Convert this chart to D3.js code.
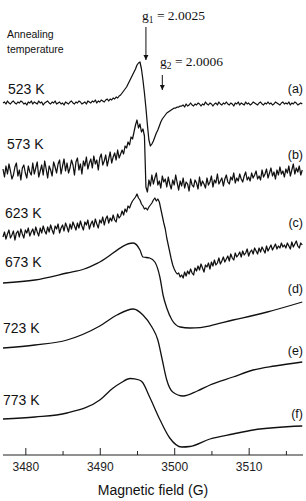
<!DOCTYPE html>
<html><head><meta charset="utf-8">
<script src="https://cdn.jsdelivr.net/npm/d3@7"></script>
<style>
html,body{margin:0;padding:0;background:#fff;}
svg{display:block;}
</style></head>
<body>
<svg id="chart" width="306" height="501"></svg>
<script>
// ---------------- DATA ----------------
// Noisy spectra sampled on a regular field grid (G)
const gridStart = 3477, gridStep = 0.2;
const sigA = [0,1,-1,2,0,-1,1,2,0,-1, 1,0,2,1,-1,0,-2,1,0,2, -1,1,0,-1,2,0,1,-2,0,1,
  2,0,-1,1,0,2,-1,0,1,-1, 0,-2,1,0,-1,1,2,0,-1,1, 0,2,1,-1,0,1,-1,2,1,0,
  2,1,3,0,2,1,3,2,1,3, 4,2,4,3,5,4,6,5,7,8, 10,12,14,16,19,22,25,28,31,34,
  38,40,41,34,23,10,-5,-22,-37,-43, -41,-38,-34,-30,-27,-23,-19,-16,-14,-12,
  -10,-9,-8,-7,-6,-5,-5,-4,-4,-3, -3,-2,-4,-1,-3,-2,0,-2,-3,-1,
  -2,0,-1,-3,-1,-2,1,-1,-2,0, -1,-3,-1,0,-2,1,-1,-2,0,-1, 1,-1,-2,0,-1,-3,0,-1,1,-2,
  0,-1,-2,1,-1,0,-2,-1,1,0, -1,-2,0,1,-1,-2,0,-1,1,-1, 0,-2,-1,1,0,-1,-2,0,1,-1,
  0,-1,1,-2,0,-1,1,0,-2,-1,0,-1];
const sigB = [3,-5,6,-2,8,1,-7,-3,5,9, -4,2,-8,4,7,-1,-6,6,0,-3,
  9,-2,4,10,-5,1,7,-3,11,3, -6,6,2,-4,10,5,-1,8,12,-2,
  6,13,1,9,-1,4,12,7,-3,10, 14,2,8,-2,11,6,15,3,9,13,
  4,16,8,12,2,14,18,7,11,17, 6,13,20,9,15,19,12,22,14,18,
  22,18,26,24,30,27,35,33,40,47, 52,44,48,40,43,36,
  -15,-20,
  -8,-14,-3,-12,-6,-1,-13,-9,-16,-4,-10,-7,
  -15,-5,-12,-17,-8,-13,-3,-11,-18,-9, -14,-6,-16,-10,-12,-19,-7,-13,-15,-8,
  -11,-17,-5,-14,-9,-12,-16,-6,-13,-10, -4,-15,-8,-11,-2,-12,-9,-6,-14,-7,
  -3,-10,-12,-5,-8,-1,-11,-6,-9,-2, -7,-10,-4,0,-8,-5,-9,-1,-6,-3,
  1,-7,-4,-8,2,-5,-2,3,-6,-1, 4,-4,0,-7,2,-3,5,-2,1,-5,
  3,-1,6,-4,2,8,-2,4,0,6,-3,2];
const sigC = [-2,3,-4,1,5,-3,0,4,-5,2, 4,-2,6,1,-3,5,2,7,-1,3,
  6,0,8,3,-1,7,2,9,4,1, 8,3,10,5,1,9,6,11,2,7,
  10,4,12,8,3,11,6,13,9,5, 12,7,14,9,5,13,10,15,6,11,
  14,8,16,11,7,15,12,18,10,16, 19,12,17,14,20,15,13,21,17,19,
  24,20,26,23,29,27,31,34,36,38, 41,37,35,31,29,26,27,25,28,30,
  32,35,37,34,36,33,26,19,12,6, -3,-10,-17,-24,-30,-34,-37,-39,-38,-42,
  -40,-43,-37,-41,-36,-39,-34,-38,-40,-33, -36,-31,-35,-29,-33,-37,-30,-32,-28,-34,
  -27,-31,-25,-30,-28,-23,-29,-26,-22,-27, -24,-21,-26,-19,-23,-25,-18,-22,-20,-17,
  -22,-16,-20,-18,-14,-21,-17,-15,-19,-13, -16,-19,-13,-17,-12,-15,-18,-11,-16,-13,
  -10,-15,-12,-9,-14,-11,-13,-8,-12,-10, -13,-8,-11,-14,-7,-12,-9,-6,-11,-13,-8,-10];
// Smooth spectra (field, signal)
const fieldD = [3477,3481.3,3485.6,3487.9,3490.0,3494.5,3495.4,3495.8,3496.7,3497.4,3498.1,3498.5,3499.0,3499.7,3500.8,3502.1,3503.5,3504.8,3507.9,3510.6,3512.5,3517.2];
const sigD   = [0,3,10,14,21,40,33,26,25,21,5,-12,-25,-37,-44,-45,-44.6,-42.8,-37,-32.5,-29,-19];
const fieldE = [3477,3481.3,3485.6,3490.0,3492.3,3494.5,3495.8,3497.0,3497.8,3498.4,3499.0,3499.8,3501.2,3503.1,3504.8,3507.9,3510.6,3513.5,3517.2];
const sigE   = [0,3,8,22,33,39,33,21,8,-12,-32,-44,-48,-43,-37,-29,-22,-18,-14];
const fieldF = [3477,3481.3,3485.6,3490.0,3491.8,3492.8,3494.1,3495.3,3495.7,3496.7,3498.1,3499.4,3501.0,3502.1,3504.8,3507.9,3510.6,3517.2];
const sigF   = [0,2,6,19,31,36,40.5,39,37,22,-1,-19,-28,-27.5,-20,-15,-11,-7];
// Stacking offsets (a.u.)
const offsets = [352,283,220,172,107,36];
const temps = ["523 K","573 K","623 K","673 K","723 K","773 K"];
const letters = ["(a)","(b)","(c)","(d)","(e)","(f)"];
const majorTicks = [3480,3490,3500,3510];
const minorTicks = [3485,3495,3505,3515];
const gMarks = [{sub:"1", val:"2.0025", field:3496.2}, {sub:"2", val:"2.0006", field:3498.4}];

// ---------------- LAYOUT ----------------
const svg = d3.select("#chart");
const x = d3.scaleLinear().domain([3477,3517.3]).range([3,303]);
const y = d3.scaleLinear().domain([0,450]).range([455,5]);

const gridFor = arr => arr.map((_,i)=>gridStart+i*gridStep);
const series = [
  {f:gridFor(sigA), s:sigA, curve:d3.curveLinear},
  {f:gridFor(sigB), s:sigB, curve:d3.curveLinear},
  {f:gridFor(sigC), s:sigC, curve:d3.curveLinear},
  {f:fieldD, s:sigD, curve:d3.curveMonotoneX},
  {f:fieldE, s:sigE, curve:d3.curveMonotoneX},
  {f:fieldF, s:sigF, curve:d3.curveMonotoneX}
];
series.forEach((sr,k)=>{
  const pts = sr.s.map((v,i)=>[sr.f[i], v+offsets[k]]);
  const line = d3.line().x(d=>x(d[0])).y(d=>y(d[1])).curve(sr.curve);
  svg.append("path").attr("d", line(pts)).attr("fill","none")
    .attr("stroke","#111").attr("stroke-width", k<3?1.25:1.3).attr("stroke-linejoin","round");
});

// labels
const tempBaselines = [94,149,218,267,333,405];
const tempX = [8,7,5,5,3,3];
const letterBaselines = [93,159,227,293,355,418];
temps.forEach((t,k)=>{
  svg.append("text").attr("x",tempX[k]).attr("y",tempBaselines[k]).text(t)
    .attr("font-family","Liberation Sans, Arial, sans-serif").attr("font-size",14).attr("fill","#111");
  svg.append("text").attr("x",303).attr("y",letterBaselines[k]).attr("text-anchor","end").text(letters[k])
    .attr("font-family","Liberation Sans, Arial, sans-serif").attr("font-size",12.5).attr("fill","#111");
});
svg.append("text").attr("x",7).attr("y",38).text("Annealing")
  .attr("font-family","Liberation Sans, Arial, sans-serif").attr("font-size",10.5).attr("fill","#111");
svg.append("text").attr("x",7).attr("y",53).text("temperature")
  .attr("font-family","Liberation Sans, Arial, sans-serif").attr("font-size",10.5).attr("fill","#111");

// g markers
const defs = svg.append("defs");
defs.append("marker").attr("id","ah").attr("viewBox","0 0 10 10").attr("refX",10).attr("refY",5)
  .attr("markerWidth",5).attr("markerHeight",7).attr("orient","auto").attr("markerUnits","userSpaceOnUse")
  .append("path").attr("d","M0,0L10,5L0,10Z").attr("fill","#111");
const gLayout = [{tx:142, ty:20, y1:27, y2:60}, {tx:160, ty:66, y1:75, y2:90}];
gMarks.forEach((g,k)=>{
  const L = gLayout[k];
  const t = svg.append("text").attr("x",L.tx).attr("y",L.ty)
    .attr("font-family","Liberation Serif, Times New Roman, serif").attr("font-size",13.5).attr("fill","#111");
  t.append("tspan").text("g");
  t.append("tspan").attr("font-size",9.5).attr("dy",3).text(g.sub);
  t.append("tspan").attr("dy",-3).text(" = "+g.val);
  svg.append("line").attr("x1",x(g.field)).attr("x2",x(g.field)).attr("y1",L.y1).attr("y2",L.y2)
    .attr("stroke","#111").attr("stroke-width",1).attr("marker-end","url(#ah)");
});

// axis
const axisG = svg.append("g").attr("transform","translate(0,455)");
axisG.append("line").attr("x1",3).attr("x2",303).attr("y1",0).attr("y2",0).attr("stroke","#222").attr("stroke-width",1.1);
const ax = d3.axisBottom(x).tickValues(majorTicks).tickSize(-7).tickPadding(7).tickFormat(d3.format("d"));
const gAx = axisG.append("g").call(ax);
gAx.select(".domain").remove();
gAx.selectAll("line").attr("stroke","#222");
gAx.selectAll("text").attr("font-family","Liberation Sans, Arial, sans-serif").attr("font-size",12).attr("fill","#222").attr("dy","0.71em");
const axm = d3.axisBottom(x).tickValues(minorTicks).tickSize(-4).tickFormat("");
const gAxm = axisG.append("g").call(axm);
gAxm.select(".domain").remove();
gAxm.selectAll("line").attr("stroke","#222");

svg.append("text").attr("x",153).attr("y",495).attr("text-anchor","middle").text("Magnetic field (G)")
  .attr("font-family","Liberation Sans, Arial, sans-serif").attr("font-size",14).attr("fill","#111");
</script>
</body></html>
